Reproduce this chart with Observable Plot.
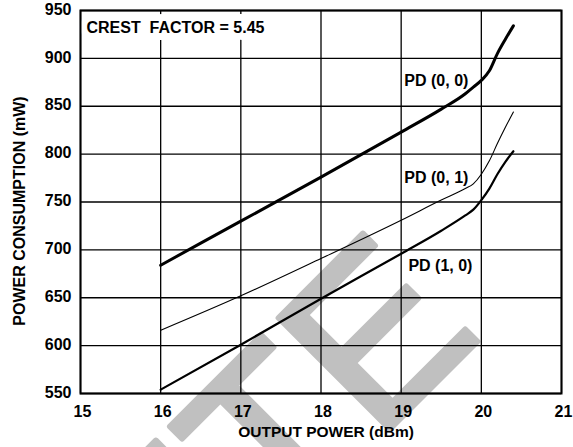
<!DOCTYPE html>
<html><head><meta charset="utf-8">
<script src="https://cdn.jsdelivr.net/npm/d3@7"></script>
<script src="https://cdn.jsdelivr.net/npm/@observablehq/plot@0.6"></script>
<style>
body{margin:0;background:#fff;}
#chart{width:573px;height:447px;overflow:hidden;}
</style></head><body><div id="chart"></div>
<script>
// Data
const outputPower = [16, 17, 18, 19, 19.5, 19.8, 19.9, 20, 20.1, 20.2, 20.3, 20.4];
const pd00 = [684, 730, 776, 823, 847, 863, 870, 877, 887, 905, 920, 934];
const pd01 = [616, 652, 691, 731, 752, 764, 769, 779, 793, 811, 828, 844];
const pd10 = [554, 601, 649, 696, 720, 736, 742, 752, 764, 779, 792, 803];

const xTicks = [15, 16, 17, 18, 19, 20, 21];
const yTicks = [550, 600, 650, 700, 750, 800, 850, 900, 950];

const labelText = ["PD (0, 0)", "PD (0, 1)", "PD (1, 0)"];
const labelX = [19.04, 19.04, 19.09];
const labelY = [876, 775, 683];

const noteText = ["CREST\u00a0 FACTOR = 5.45"];
const xTitle = ["OUTPUT POWER (dBm)"];
const yTitle = ["POWER CONSUMPTION (mW)"];
const watermark = ["OBSOLETE"];

const rows00 = outputPower.map((x, i) => ({x, y: pd00[i]}));
const rows01 = outputPower.map((x, i) => ({x, y: pd01[i]}));
const rows10 = outputPower.map((x, i) => ({x, y: pd10[i]}));
const labels = labelText.map((t, i) => ({t, x: labelX[i], y: labelY[i]}));

const chart = Plot.plot({
  width: 573, height: 447,
  marginLeft: 80, marginRight: 12, marginTop: 10, marginBottom: 54,
  style: {fontFamily: "'Liberation Sans', Arial, sans-serif", fontWeight: "bold", fontSize: "16px", background: "white", color: "black", overflow: "visible"},
  x: {domain: [15, 21], ticks: xTicks},
  y: {domain: [550, 950], ticks: yTicks},
  marks: [
    Plot.text(watermark, {frameAnchor: "bottom-right", dx: -77, dy: -59, rotate: -45, textAnchor: "end", lineAnchor: "bottom", fontSize: 229, fontWeight: "normal", fill: "#c0c0c0", stroke: "#c0c0c0", strokeWidth: 5.5}),
    Plot.gridX(xTicks, {stroke: "black", strokeOpacity: 1, strokeWidth: 1.3}),
    Plot.gridY(yTicks, {stroke: "black", strokeOpacity: 1, strokeWidth: 1.3}),
    Plot.line(rows00, {x: "x", y: "y", stroke: "black", strokeWidth: 3, curve: "monotone-x"}),
    Plot.line(rows01, {x: "x", y: "y", stroke: "black", strokeWidth: 1.1, curve: "monotone-x"}),
    Plot.line(rows10, {x: "x", y: "y", stroke: "black", strokeWidth: 2.2, curve: "monotone-x"}),
    Plot.text(labels, {x: "x", y: "y", text: "t", textAnchor: "start", fill: "black", fontSize: 16}),
    Plot.text(noteText, {frameAnchor: "top-left", dx: 6, dy: 22, textAnchor: "start", lineAnchor: "bottom", fill: "black", stroke: "white", strokeWidth: 14, fontSize: 16}),
    Plot.frame({stroke: "black", strokeWidth: 2}),
    Plot.axisX(xTicks, {tickSize: 0, tickPadding: 12, dx: 2, label: null, fontSize: 16}),
    Plot.axisY(yTicks, {tickSize: 0, tickPadding: 9, dy: -1, label: null, fontSize: 16}),
    Plot.text(xTitle, {frameAnchor: "bottom", dx: 5, dy: 38.5, lineAnchor: "middle", textAnchor: "middle", fill: "black", fontSize: 15.5}),
    Plot.text(yTitle, {frameAnchor: "left", dx: -61, dy: 9, rotate: -90, textAnchor: "middle", lineAnchor: "middle", fill: "black", fontSize: 16})
  ]
});
document.getElementById("chart").appendChild(chart);
</script>
</body></html>
